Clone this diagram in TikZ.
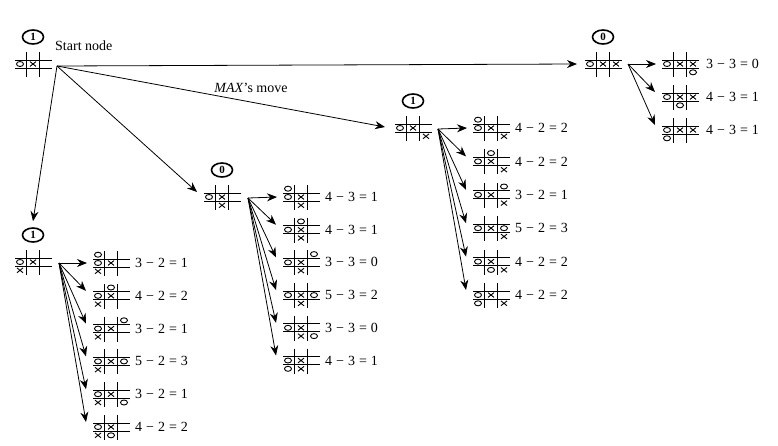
\documentclass[tikz,border=0pt]{standalone}
\usepackage{fontspec}
\setmainfont{Liberation Serif}
\usetikzlibrary{arrows.meta,shapes.geometric,calc}
\tikzset{
  bd/.style={minimum width=38pt,minimum height=26pt,inner sep=0pt,outer sep=0pt},
  gridl/.style={line width=0.9pt},
  mk/.style={line width=0.9pt},
  arr/.style={line width=0.8pt,-{Stealth[length=10pt,width=8pt]}},
  circ/.style={ellipse,draw,line width=1.6pt,minimum width=21pt,minimum height=14pt,inner sep=0pt,font=\fontsize{11}{11}\selectfont\bfseries},
  eq/.style={anchor=west,inner sep=0pt,font=\fontsize{14}{14}\selectfont},
  lbl/.style={inner sep=0pt,font=\fontsize{14}{14}\selectfont},
}
\newcommand{\eqn}[3]{#1\hspace{4pt}−\hspace{4pt}#2\hspace{4pt}=\hspace{4pt}#3}
\newcommand{\brd}[5]{%
  \node[bd] (#1) at (#2,#3) {};
  \begin{scope}[shift={(#2,#3)}]
    \draw[gridl] (-6.5,-12)--(-6.5,13) (6.5,-12)--(6.5,13) (-18,-4)--(19,-4) (-18,4)--(19,4);
    \foreach \cc/\rr in {#4} {\draw[mk] ({\cc*13},{\rr*8.3}) ellipse [x radius=3.5pt,y radius=2.5pt];}
    \foreach \cc/\rr in {#5} {\draw[mk] ({\cc*13-3},{\rr*8.3-2.4}) -- ++(6,4.8) ({\cc*13-3},{\rr*8.3+2.4}) -- ++(6,-4.8);}
  \end{scope}}
\begin{document}
\begin{tikzpicture}[x=1pt,y=-1pt]
\useasboundingbox (0,0) rectangle (778,445);
% root
\brd{root}{33}{64}{-1/0}{0/0}
\node[circ] (croot) at (33,37) {1};
\node[lbl,anchor=west] (st) at (55,46) {Start node};
\coordinate (ro) at ($(root.east)+(5,2)$);
% top right
\brd{tr}{603}{64}{-1/0}{0/0,1/0}
\node[circ] (ctr) at (603,37) {0};
\coordinate (tro) at ($(tr.east)+(6,0)$);
\foreach \ii/\oc/\orw/\va/\vb/\vc [count=\k from 0] in {1/1/1/3/3/0, 2/0/1/4/3/1, 3/-1/1/4/3/1} {
  \pgfmathsetmacro\yy{64+33*\k}
  \brd{t\ii}{680}{\yy}{-1/0,\oc/\orw}{0/0,1/0}
  \node[eq] (et\ii) at (706,\yy) {\eqn{\va}{\vb}{\vc}};
}
% R node
\brd{r}{413}{128}{-1/0}{0/0,1/1}
\node[circ] (cr) at (413,101) {1};
\coordinate (rro) at ($(r.east)+(6,1)$);
\foreach \ii/\oc/\orw/\va/\vb/\vc [count=\k from 0] in {1/-1/-1/4/2/2, 2/0/-1/4/2/2, 3/1/-1/3/2/1, 4/1/0/5/2/3, 5/0/1/4/2/2, 6/-1/1/4/2/2} {
  \pgfmathsetmacro\yy{128+33.4*\k}
  \brd{r\ii}{491}{\yy}{-1/0,\oc/\orw}{0/0,1/1}
  \node[eq] (er\ii) at (515,\yy) {\eqn{\va}{\vb}{\vc}};
}
% M node
\brd{m}{222}{197}{-1/0}{0/0,0/1}
\node[circ] (cm) at (222,170) {0};
\coordinate (mo) at ($(m.east)+(7,1)$);
\foreach \ii/\oc/\orw/\va/\vb/\vc [count=\k from 0] in {1/-1/-1/4/3/1, 2/0/-1/4/3/1, 3/1/-1/3/3/0, 4/1/0/5/3/2, 5/1/1/3/3/0, 6/-1/1/4/3/1} {
  \pgfmathsetmacro\yy{197+32.7*\k}
  \brd{m\ii}{301}{\yy}{-1/0,\oc/\orw}{0/0,0/1}
  \node[eq] (em\ii) at (325,\yy) {\eqn{\va}{\vb}{\vc}};
}
% L node
\brd{l}{33}{262}{-1/0}{0/0,-1/1}
\node[circ] (cl) at (33,235) {1};
\coordinate (lo) at ($(l.east)+(7,1)$);
\foreach \ii/\oc/\orw/\va/\vb/\vc [count=\k from 0] in {1/-1/-1/3/2/1, 2/0/-1/4/2/2, 3/1/-1/3/2/1, 4/1/0/5/2/3, 5/1/1/3/2/1, 6/0/1/4/2/2} {
  \pgfmathsetmacro\yy{263+32.8*\k}
  \brd{l\ii}{111}{\yy}{-1/0,\oc/\orw}{0/0,-1/1}
  \node[eq] (el\ii) at (135,\yy) {\eqn{\va}{\vb}{\vc}};
}
% root arrows
\draw[arr] (ro) -- ($(tr.west)+(-7,0)$);
\draw[arr] (ro) -- ($(r.west)+(-9,-1)$);
\node[lbl] (mx) at (251,88) {\textit{MAX}'s move};
\draw[arr] (ro) -- ($(m.west)+(-6,-5)$);
\draw[arr] (ro) -- ($(cl.north)+(0,-6)$);
% child arrows
\draw[arr] (tro) -- ($(t1.west)+(-5,0)$);
\foreach \ii in {2,3} \draw[arr] (tro) -- ($(t\ii.west)+(-6,-5)$);
\draw[arr] (rro) -- ($(r1.west)+(-5,0)$);
\foreach \ii in {2,...,6} \draw[arr] (rro) -- ($(r\ii.west)+(-6,-5)$);
\draw[arr] (mo) -- ($(m1.west)+(-5,0)$);
\foreach \ii in {2,...,6} \draw[arr] (mo) -- ($(m\ii.west)+(-6,-5)$);
\draw[arr] (lo) -- ($(l1.west)+(-5,0)$);
\foreach \ii in {2,...,6} \draw[arr] (lo) -- ($(l\ii.west)+(-6,-5)$);
\end{tikzpicture}
\end{document}
